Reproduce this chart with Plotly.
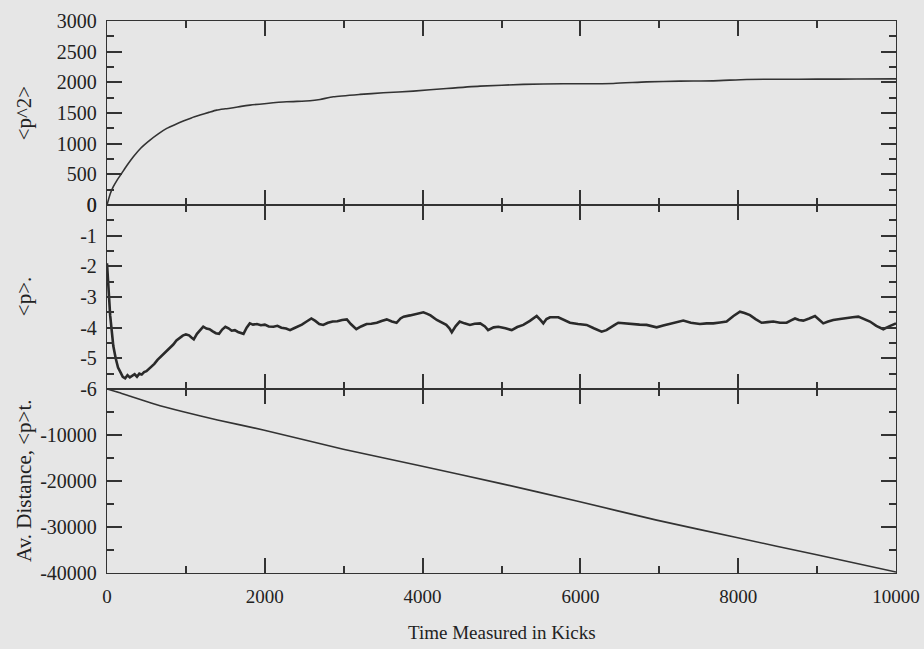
import plotly.graph_objects as go
from plotly.subplots import make_subplots

# <p^2> versus kicks
kicks_p2 = [0, 40, 80, 130, 186, 250, 334, 430, 545, 650, 757, 860, 967, 1070,
            1179, 1290, 1390, 1500, 1601, 1700, 1812, 2024, 2277, 2573, 2700,
            2868, 3207, 3502, 3882, 4305, 4728, 5276, 5783, 6417, 6839, 7262,
            7684, 8106, 8530, 9000, 9500, 10000]
p2_mean = [0, 180, 298, 410, 516, 640, 787, 930, 1059, 1160, 1249, 1310, 1368,
           1420, 1466, 1510, 1547, 1568, 1585, 1608, 1629, 1656, 1683, 1699,
           1721, 1764, 1803, 1829, 1857, 1900, 1938, 1966, 1976, 1982, 2008,
           2020, 2024, 2047, 2050, 2052, 2054, 2056]

# <p> versus kicks
kicks_p = [0, 20, 40, 60, 80, 110, 140, 170, 200, 230, 260, 290, 320, 350, 380,
           410, 440, 470, 500, 530, 560, 600, 640, 680, 720, 760, 800, 840, 880,
           920, 960, 1000, 1040, 1070, 1100, 1140, 1180, 1220, 1260, 1300, 1340,
           1380, 1420, 1460, 1500, 1540, 1580, 1620, 1660, 1700, 1730, 1770,
           1810, 1850, 1900, 1950, 2000, 2050, 2110, 2160, 2210, 2270, 2320,
           2370, 2420, 2470, 2530, 2590, 2640, 2690, 2740, 2800, 2860, 2920,
           2980, 3040, 3090, 3160, 3220, 3290, 3350, 3420, 3480, 3545, 3610,
           3670, 3720, 3760, 3840, 3925, 3970, 4010, 4060, 4100, 4180, 4240,
           4300, 4340, 4370, 4420, 4470, 4530, 4600, 4660, 4730, 4790, 4830,
           4900, 4960, 5050, 5130, 5200, 5276, 5360, 5446, 5490, 5530, 5570,
           5615, 5720, 5800, 5868, 5970, 6079, 6170, 6269, 6330, 6375, 6430,
           6480, 6580, 6670, 6750, 6839, 6900, 6966, 7050, 7135, 7220, 7304,
           7400, 7515, 7600, 7684, 7770, 7853, 7940, 8022, 8080, 8149, 8220,
           8297, 8370, 8445, 8530, 8614, 8670, 8720, 8770, 8825, 8900, 8973,
           9030, 9078, 9140, 9205, 9290, 9374, 9450, 9522, 9600, 9670, 9750,
           9839, 9920, 10000]
p_mean = [-1.9, -2.9, -3.6, -4.1, -4.6, -5.0, -5.3, -5.45, -5.6, -5.65, -5.55,
          -5.62, -5.58, -5.52, -5.6, -5.5, -5.53, -5.45, -5.42, -5.35, -5.3,
          -5.18, -5.05, -4.95, -4.85, -4.74, -4.66, -4.55, -4.42, -4.33, -4.26,
          -4.22, -4.25, -4.32, -4.38, -4.2, -4.08, -3.97, -4.03, -4.05, -4.12,
          -4.18, -4.2, -4.06, -3.97, -4.02, -4.1, -4.08, -4.14, -4.18, -4.2,
          -4.0, -3.86, -3.9, -3.88, -3.92, -3.9, -3.96, -3.97, -3.94, -4.0,
          -4.03, -4.08, -4.02, -3.96, -3.9, -3.8, -3.7, -3.78, -3.88, -3.91,
          -3.84, -3.8, -3.79, -3.75, -3.73, -3.88, -4.05, -3.96, -3.88, -3.87,
          -3.84, -3.78, -3.73, -3.8, -3.84, -3.7, -3.64, -3.6, -3.56, -3.52,
          -3.5, -3.55, -3.6, -3.75, -3.82, -3.91, -4.02, -4.15, -3.95, -3.8,
          -3.86, -3.91, -3.87, -3.86, -3.96, -4.08, -3.99, -3.97, -4.02, -4.08,
          -3.98, -3.91, -3.78, -3.62, -3.74, -3.86, -3.72, -3.66, -3.66, -3.76,
          -3.84, -3.88, -3.91, -4.02, -4.13, -4.08, -4.02, -3.92, -3.84, -3.87,
          -3.88, -3.9, -3.91, -3.96, -3.99, -3.93, -3.88, -3.83, -3.77, -3.84,
          -3.88, -3.86, -3.86, -3.83, -3.8, -3.62, -3.48, -3.52, -3.59, -3.72,
          -3.84, -3.82, -3.8, -3.84, -3.84, -3.76, -3.7, -3.75, -3.77, -3.7,
          -3.62, -3.75, -3.86, -3.8, -3.75, -3.72, -3.7, -3.66, -3.64, -3.72,
          -3.8, -3.94, -4.05, -3.95, -3.86]

# average distance <p>t versus kicks
kicks_d = [0, 150, 334, 600, 967, 1400, 1981, 2995, 3967, 4981, 5953, 6966,
           7980, 8995, 10000]
distance = [0, -750, -1800, -3250, -4950, -6750, -8900, -13090, -16700, -20510,
            -24350, -28500, -32300, -36050, -39800]

y_ticks_p2 = [0, 500, 1000, 1500, 2000, 2500, 3000]
y_labels_p2 = ["0", "500", "1000", "1500", "2000", "2500", "3000"]
y_ticks_p = [0, -1, -2, -3, -4, -5, -6]
y_labels_p = ["0", "-1", "-2", "-3", "-4", "-5", "-6"]
y_ticks_d = [-10000, -20000, -30000, -40000]
y_labels_d = ["-10000", "-20000", "-30000", "-40000"]
x_ticks = [0, 2000, 4000, 6000, 8000, 10000]
x_labels = ["0", "2000", "4000", "6000", "8000", "10000"]

INK = "#333333"
BG = "#e6e6e6"
FONT = "Liberation Serif, Times New Roman, serif"
TXT = "#222222"

fig = make_subplots(rows=3, cols=1, shared_xaxes=True, vertical_spacing=0)

fig.add_trace(go.Scatter(x=kicks_p2, y=p2_mean, mode="lines",
                         line=dict(color=INK, width=1.6, shape="spline",
                                   smoothing=0.6)), row=1, col=1)
fig.add_trace(go.Scatter(x=kicks_p, y=p_mean, mode="lines",
                         line=dict(color="#2a2a2a", width=2.6)), row=2, col=1)
fig.add_trace(go.Scatter(x=kicks_d, y=distance, mode="lines",
                         line=dict(color=INK, width=1.6, shape="spline",
                                   smoothing=0.6)), row=3, col=1)

frame = dict(showline=True, linecolor=INK, linewidth=1.3, mirror="ticks",
             ticks="inside", ticklen=15, tickwidth=1.5, tickcolor=INK,
             showgrid=False, zeroline=False, automargin=False,
             tickfont=dict(family=FONT, size=20, color=TXT))


def minor(step):
    return dict(ticks="inside", ticklen=7, tickwidth=1.5, tickcolor=INK,
                dtick=step, tick0=0, showgrid=False)


for r in (1, 2, 3):
    fig.update_xaxes(frame, range=[0, 10000], tickmode="array",
                     tickvals=x_ticks, ticktext=x_labels, minor=minor(1000),
                     ticklabelstandoff=6, row=r, col=1)
fig.update_xaxes(tickfont=dict(family=FONT, size=19, color=TXT),
                 showticklabels=True, row=3, col=1)

fig.update_yaxes(frame, range=[0, 3000], tickmode="array",
                 tickvals=y_ticks_p2, ticktext=y_labels_p2, minor=minor(250),
                 ticklabelstandoff=5, row=1, col=1)
fig.update_yaxes(frame, range=[-6, 0], tickmode="array",
                 tickvals=y_ticks_p, ticktext=y_labels_p, minor=minor(0.5),
                 ticklabelstandoff=5, row=2, col=1)
fig.update_yaxes(frame, range=[-40000, 0], tickmode="array",
                 tickvals=y_ticks_d, ticktext=y_labels_d, minor=minor(5000),
                 ticklabelstandoff=5, row=3, col=1)

title_font = dict(family=FONT, size=21, color=TXT)
y_titles = [("<p^2>", 0.833), ("<p>.", 0.5), ("Av. Distance, <p>t.", 0.167)]
for text, ypos in y_titles:
    fig.add_annotation(text=text.replace("<", "&lt;").replace(">", "&gt;"),
                       xref="paper", yref="paper", x=-0.105, y=ypos,
                       textangle=-90, showarrow=False, font=title_font,
                       xanchor="center", yanchor="middle")

fig.add_annotation(text="Time Measured in Kicks", xref="paper", yref="paper",
                   x=0.5, y=-0.108, showarrow=False,
                   font=dict(family=FONT, size=19, color=TXT),
                   xanchor="center", yanchor="middle")

fig.update_layout(width=924, height=649, showlegend=False,
                  margin=dict(l=107, r=28, t=21, b=76),
                  paper_bgcolor=BG, plot_bgcolor=BG)

fig.write_html("out.html")
